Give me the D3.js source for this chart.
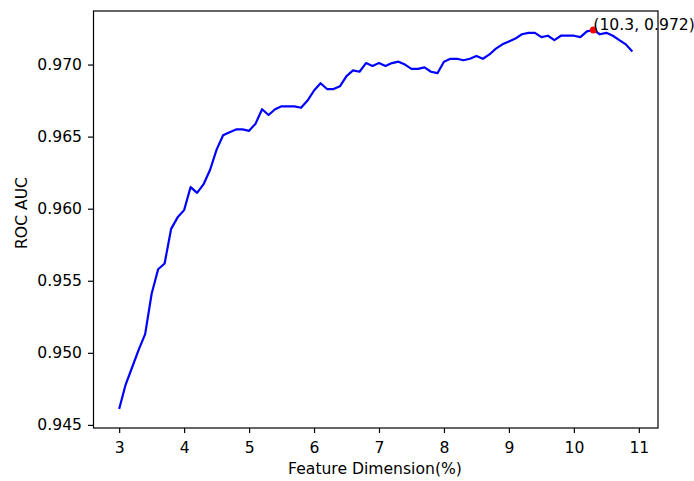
<!DOCTYPE html>
<html>
<head>
<meta charset="utf-8">
<script src="https://cdn.jsdelivr.net/npm/d3@7"></script>
<style>
  html, body { margin: 0; padding: 0; background: #fff; }
  svg text { font-family: "DejaVu Sans", sans-serif; fill: #000; }
</style>
</head>
<body>
<svg id="chart" width="694" height="481"></svg>
<script>
// Feature dimension (%) on x
const dims = [
  3.0, 3.1, 3.2, 3.3, 3.4, 3.5, 3.6, 3.7, 3.8, 3.9,
  4.0, 4.1, 4.2, 4.3, 4.4, 4.5, 4.6, 4.7, 4.8, 4.9,
  5.0, 5.1, 5.2, 5.3, 5.4, 5.5, 5.6, 5.7, 5.8, 5.9,
  6.0, 6.1, 6.2, 6.3, 6.4, 6.5, 6.6, 6.7, 6.8, 6.9,
  7.0, 7.1, 7.2, 7.3, 7.4, 7.5, 7.6, 7.7, 7.8, 7.9,
  8.0, 8.1, 8.2, 8.3, 8.4, 8.5, 8.6, 8.7, 8.8, 8.9,
  9.0, 9.1, 9.2, 9.3, 9.4, 9.5, 9.6, 9.7, 9.8, 9.9,
  10.0, 10.1, 10.2, 10.3, 10.4, 10.5, 10.6, 10.7, 10.8, 10.9
];

// ROC AUC for each dimension
const aucValues = [
  0.9461, 0.9478, 0.9490, 0.9502, 0.9513, 0.9541, 0.9558, 0.9562, 0.9586, 0.9594,
  0.9599, 0.9615, 0.9611, 0.9617, 0.9627, 0.9641, 0.9651, 0.9653, 0.9655, 0.9655,
  0.9654, 0.9659, 0.9669, 0.9665, 0.9669, 0.9671, 0.9671, 0.9671, 0.9670, 0.9675,
  0.9682, 0.9687, 0.9683, 0.9683, 0.9685, 0.9692, 0.9696, 0.9695, 0.9701, 0.9699,
  0.9701, 0.9699, 0.9701, 0.9702, 0.9700, 0.9697, 0.9697, 0.9698, 0.9695, 0.9694,
  0.9702, 0.9704, 0.9704, 0.9703, 0.9704, 0.9706, 0.9704, 0.9707, 0.9711, 0.9714,
  0.9716, 0.9718, 0.9721, 0.9722, 0.9722, 0.9719, 0.9720, 0.9717, 0.9720, 0.9720,
  0.9720, 0.9719, 0.9723, 0.9724, 0.9721, 0.9722, 0.9720, 0.9717, 0.9714, 0.9709
];

const xTicks = [3, 4, 5, 6, 7, 8, 9, 10, 11];
const yTicks = [0.945, 0.950, 0.955, 0.960, 0.965, 0.970];

// best point, highlighted and annotated
const bestDim = [10.3];
const bestAuc = [0.9724];
const bestLabel = ["(10.3, 0.972)"];

const svg = d3.select("#chart");
const plot = { left: 93.5, right: 658, top: 11, bottom: 428 };
const fontSize = 15.6;

// matplotlib-like 5% margins around the data
function padded(ext) {
  const pad = (ext[1] - ext[0]) * 0.05;
  return [ext[0] - pad, ext[1] + pad];
}

const x = d3.scaleLinear()
  .domain(padded(d3.extent(dims)))
  .range([plot.left, plot.right]);

const y = d3.scaleLinear()
  .domain(padded(d3.extent(aucValues)))
  .range([plot.bottom, plot.top]);

const data = dims.map((d, i) => ({ x: d, y: aucValues[i] }));

// Line
const line = d3.line().x(d => x(d.x)).y(d => y(d.y));
svg.append("path")
  .datum(data)
  .attr("fill", "none")
  .attr("stroke", "#0000ff")
  .attr("stroke-width", 2.2)
  .attr("stroke-linejoin", "round")
  .attr("d", line);

// Highlight point
svg.selectAll("circle.best")
  .data(bestDim)
  .enter()
  .append("circle")
  .attr("class", "best")
  .attr("cx", d => x(d))
  .attr("cy", (d, i) => y(bestAuc[i]))
  .attr("r", 3.5)
  .attr("fill", "#ff0000");

svg.selectAll("text.annot")
  .data(bestDim)
  .enter()
  .append("text")
  .attr("class", "annot")
  .attr("x", d => x(d))
  .attr("y", (d, i) => y(bestAuc[i]))
  .attr("font-size", fontSize)
  .text((d, i) => bestLabel[i]);

// Axes
const xAxis = d3.axisBottom(x).tickValues(xTicks).tickSize(5).tickPadding(8.5)
  .tickFormat(d3.format("d"));
const yAxis = d3.axisLeft(y).tickValues(yTicks).tickSize(5.5).tickPadding(6)
  .tickFormat(d3.format(".3f"));

const gx = svg.append("g")
  .attr("transform", `translate(0,${plot.bottom})`)
  .call(xAxis);
const gy = svg.append("g")
  .attr("transform", `translate(${plot.left},0)`)
  .call(yAxis);

[gx, gy].forEach(g => {
  g.select(".domain").remove();
  g.selectAll("text").attr("font-size", fontSize).attr("font-family", "DejaVu Sans");
  g.selectAll("line").attr("stroke", "#000").attr("stroke-width", 1.2);
});

// Frame
svg.append("rect")
  .attr("x", plot.left)
  .attr("y", plot.top)
  .attr("width", plot.right - plot.left)
  .attr("height", plot.bottom - plot.top)
  .attr("fill", "none")
  .attr("stroke", "#000")
  .attr("stroke-width", 1.2);

// Labels
svg.append("text")
  .attr("x", 375)
  .attr("y", 474)
  .attr("text-anchor", "middle")
  .attr("font-size", fontSize)
  .text("Feature Dimension(%)");

svg.append("text")
  .attr("transform", `translate(27,213) rotate(-90)`)
  .attr("text-anchor", "middle")
  .attr("font-size", fontSize)
  .text("ROC AUC");
</script>
</body>
</html>
